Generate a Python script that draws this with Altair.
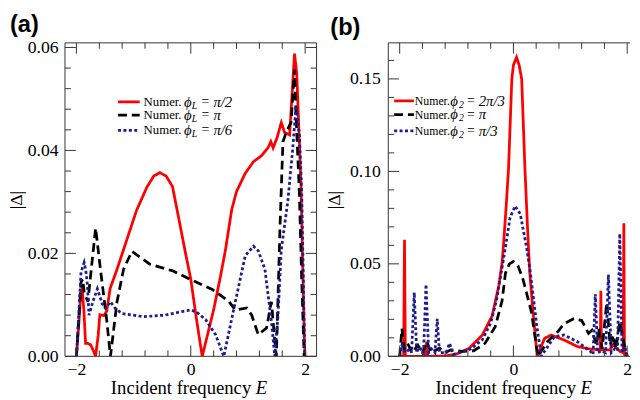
import altair as alt
import pandas as pd

# ---------------- data: panel (a) ----------------
a_red_E = [-2.00, -1.96, -1.92, -1.90, -1.87, -1.84, -1.80, -1.75, -1.70, -1.665, -1.62, -1.59, -1.52, -1.47,
           -1.41, -1.29, -1.12, -0.95, -0.77, -0.65, -0.54, -0.43, -0.32, -0.20, -0.10, 0.00, 0.10, 0.20,
           0.30, 0.405, 0.51, 0.607, 0.716, 0.80, 0.95, 1.095, 1.24, 1.35, 1.40, 1.44, 1.51, 1.583, 1.64,
           1.728, 1.767, 1.814, 1.853, 1.888, 1.928, 1.957, 1.99, 2.00]
a_red_D = [0.0, 0.006, 0.0128, 0.0131, 0.009, 0.0025, 0.0025, 0.0022, 0.001, 0.0, 0.004, 0.0081, 0.0079, 0.0088,
           0.0132, 0.0169, 0.0226, 0.0283, 0.0328, 0.0350, 0.0357, 0.0350, 0.0330, 0.0262, 0.0205, 0.0150, 0.0072, 0.0,
           0.0045, 0.0093, 0.0150, 0.0207, 0.0285, 0.0320, 0.0355, 0.0378, 0.0390, 0.0405, 0.0417, 0.0405, 0.0425, 0.0454, 0.0435,
           0.0430, 0.0500, 0.0588, 0.0550, 0.0450, 0.0330, 0.0180, 0.002, 0.0]

a_black_E = [-2.0, -1.95, -1.92, -1.89, -1.865, -1.80, -1.73, -1.664, -1.58, -1.474, -1.405, -1.29, -1.176, -1.03,
             -0.716, -0.314, 0.0, 0.376, 0.664, 0.78, 0.98, 1.066, 1.18, 1.324, 1.41, 1.469, 1.497, 1.56, 1.612,
             1.669, 1.755, 1.814, 1.841, 1.90, 1.94, 1.983]
a_black_D = [0.0, 0.009, 0.0144, 0.015, 0.0125, 0.0106, 0.018, 0.0249, 0.0169, 0.0074, 0.0, 0.0106, 0.0169, 0.0204,
             0.0179, 0.0166, 0.0149, 0.013, 0.0107, 0.009, 0.0094, 0.008, 0.0042, 0.0055, 0.0106, 0.003, 0.0, 0.025, 0.0417,
             0.0435, 0.0455, 0.0557, 0.0468, 0.0315, 0.015, 0.0]

a_blue_E = [-2.0, -1.95, -1.92, -1.865, -1.836, -1.807, -1.78, -1.716, -1.634, -1.548, -1.491, -1.405, -1.319, -1.203,
            -0.831, -0.457, -0.15, 0.0, 0.10, 0.262, 0.434, 0.578, 0.779, 0.952, 1.095, 1.18, 1.297, 1.41, 1.469,
            1.526, 1.583, 1.698, 1.784, 1.841, 1.90, 1.94, 1.974, 1.99]
a_blue_D = [0.0, 0.010, 0.0163, 0.0182, 0.0167, 0.0138, 0.008, 0.0105, 0.0131, 0.0102, 0.0093, 0.0106, 0.0093, 0.0083,
            0.0077, 0.0080, 0.0087, 0.009, 0.0086, 0.0071, 0.0042, 0.0, 0.0106, 0.0195, 0.0214, 0.0205, 0.0169, 0.0068, 0.0,
            0.008, 0.0207, 0.0302, 0.0404, 0.0487, 0.043, 0.0322, 0.012, 0.0]

# ---------------- data: panel (b) ----------------
b_red_E = [-2.0, -1.93, -1.915, -1.90, -1.535, -1.525, -1.515, -1.2, -1.0, -0.777, -0.546, -0.373, -0.259, -0.2,
           -0.173, -0.13, -0.086, -0.028, 0.0, 0.055, 0.10, 0.145, 0.202, 0.25, 0.288, 0.345, 0.404, 0.432, 0.47,
           0.547, 0.663, 0.893, 1.123, 1.354, 1.527, 1.537, 1.547, 1.70, 1.756, 1.872, 1.93, 1.941, 1.952, 2.0]
b_red_D = [0.0, 0.0, 0.063, 0.0, 0.0, 0.008, 0.0, 0.0002, 0.0012, 0.0044, 0.0115, 0.022, 0.038, 0.0504,
           0.061, 0.080, 0.1016, 0.150, 0.1575, 0.1617, 0.1575, 0.150, 0.1016, 0.068, 0.045, 0.0239, 0.0044, 0.0, 0.004,
           0.0097, 0.0115, 0.0088, 0.0053, 0.0039, 0.0035, 0.0354, 0.0035, 0.0035, 0.0064, 0.0027, 0.002, 0.072, 0.001, 0.0]

b_black_E = [-2.0, -1.96, -1.92, -1.86, -1.78, -1.68, -1.60, -1.52, -1.45, -1.30, -1.2, -1.1, -0.9, -0.7, -0.5,
             -0.32, -0.2, -0.14, -0.07, 0.0, 0.08, 0.17, 0.317, 0.43, 0.6, 0.78, 0.89, 1.06, 1.2, 1.32, 1.38,
             1.46, 1.50, 1.56, 1.64, 1.70, 1.756, 1.80, 1.87, 1.96, 2.0]
b_black_D = [0.0, 0.015, 0.004, 0.007, 0.002, 0.006, 0.002, 0.008, 0.002, 0.0044, 0.002, 0.0035, 0.0027, 0.003, 0.007,
             0.016, 0.030, 0.045, 0.050, 0.0513, 0.049, 0.0415, 0.0239, 0.0, 0.008, 0.0133, 0.0177, 0.0203, 0.0194, 0.0124, 0.0141,
             0.006, 0.015, 0.004, 0.029, 0.006, 0.0115, 0.004, 0.0186, 0.0044, 0.0]

b_blue_E = [-2.0, -1.96, -1.90, -1.82, -1.79, -1.744, -1.70, -1.65, -1.58, -1.537, -1.49, -1.44, -1.38, -1.34, -1.30,
            -1.18, -1.123, -1.06, -0.9, -0.75, -0.546, -0.4, -0.3, -0.2, -0.14, -0.06, 0.03, 0.12, 0.23, 0.29, 0.35,
            0.404, 0.49, 0.547, 0.72, 0.893, 1.12, 1.354, 1.40, 1.44, 1.48, 1.55, 1.62, 1.67, 1.72, 1.78, 1.83, 1.87,
            1.91, 1.96, 2.0]
b_blue_D = [0.0, 0.006, 0.002, 0.004, 0.002, 0.0345, 0.002, 0.005, 0.002, 0.0389, 0.002, 0.004, 0.002, 0.0203, 0.002,
            0.002, 0.0071, 0.001, 0.0025, 0.004, 0.009, 0.018, 0.030, 0.048, 0.059, 0.075, 0.0813, 0.077, 0.059, 0.047, 0.032,
            0.018, 0.0, 0.0027, 0.0106, 0.0115, 0.008, 0.0027, 0.001, 0.0336, 0.002, 0.003, 0.002, 0.0442, 0.002, 0.004, 0.003, 0.0663,
            0.002, 0.005, 0.0]

# ---------------- ticks & labels ----------------
x_major = [-2, 0, 2]
x_minor = [-1.6, -1.2, -0.8, -0.4, 0.4, 0.8, 1.2, 1.6]
a_y_major = [0.0, 0.02, 0.04, 0.06]
a_y_minor = [round(0.004 * i, 3) for i in range(1, 15) if i % 5 != 0]
b_y_major = [0.0, 0.05, 0.10, 0.15]
b_y_minor = [round(0.01 * i, 2) for i in range(1, 17) if i % 5 != 0]

a_legend_vals = ["π/2", "π", "π/6"]
b_legend_vals = ["2π/3", "π", "π/3"]

RED, BLACK, BLUE = "#ff0000", "#000000", "#1c1c8f"
STYLES = [(RED, [1, 0]), (BLACK, [9, 5]), (BLUE, [3, 2.5])]
FRAME = "#333333"
SERIF = "'Liberation Serif', 'Times New Roman', Times, serif"
SANS = "'Liberation Sans', Arial, Helvetica, sans-serif"
H = 319
one = pd.DataFrame({"k": [0]})
MINUS = "datum.value < 0 ? '\u2212' + format(-datum.value, 'd') : format(datum.value, 'd')"


def panel(series, xdom, ydom, W, ymaj, ymin, yfmt, lab_pad, ytitle_x, title, title_dx,
          leg_vals, leg_line, leg_text_x, leg_rows, leg_off, numer_fs, sub, xt_right, e_left, right_side):
    xs = alt.Scale(domain=xdom, nice=False, zero=False)
    ys = alt.Scale(domain=ydom, nice=False, zero=False)
    xax = alt.Axis(values=x_major, labelPadding=5, labelExpr=MINUS, title=None,
                   labelFont=SERIF, labelFontSize=18, labelColor="black")
    yax = alt.Axis(values=ymaj, format=yfmt, labelPadding=lab_pad, title="|Δ|",
                   labelFont=SERIF, labelFontSize=18, labelColor="black",
                   titleFont=SERIF, titleFontSize=18, titleColor="black", titleFontWeight="normal",
                   titleX=ytitle_x, titleY=H / 2, titleAngle=270,
                   titleBaseline="alphabetic", titleAlign="center")

    def X(f):
        return alt.X(f, scale=xs, axis=xax, title=None)

    def Y(f):
        return alt.Y(f, scale=ys, axis=yax, title="|Δ|")

    layers = []
    for i, (E, D) in enumerate(series):
        df = pd.DataFrame({"E": E, "D": D, "i": range(len(E))})
        color, dash = STYLES[i]
        layers.append(alt.Chart(df).mark_line(color=color, strokeWidth=2.8, strokeDash=dash,
                                              strokeCap="butt", clip=True)
                      .encode(x=X("E:Q"), y=Y("D:Q"), order="i:Q"))

    # frame
    fr = dict(color=FRAME, strokeWidth=1)
    layers.append(alt.Chart(one).mark_rule(**fr).encode(x=alt.value(0), x2=alt.value(W), y=alt.value(0)))
    layers.append(alt.Chart(one).mark_rule(**fr).encode(x=alt.value(0), x2=alt.value(W), y=alt.value(H)))
    layers.append(alt.Chart(one).mark_rule(**fr).encode(x=alt.value(0), y=alt.value(0), y2=alt.value(H)))
    if right_side:
        layers.append(alt.Chart(one).mark_rule(**fr).encode(x=alt.value(W), y=alt.value(0), y2=alt.value(H)))

    # ticks (inward)
    for vals, L in ((x_major, 11), (x_minor, 6)):
        d = pd.DataFrame({"E": vals})
        layers.append(alt.Chart(d).mark_rule(**fr).encode(x=X("E:Q"), y=alt.value(H), y2=alt.value(H - L)))
        layers.append(alt.Chart(d).mark_rule(**fr).encode(x=X("E:Q"), y=alt.value(0), y2=alt.value(L)))
    for vals, L in ((ymaj, 11), (ymin, 6)):
        d = pd.DataFrame({"D": vals})
        layers.append(alt.Chart(d).mark_rule(**fr).encode(y=Y("D:Q"), x=alt.value(0), x2=alt.value(L)))
        if right_side:
            layers.append(alt.Chart(d).mark_rule(**fr).encode(y=Y("D:Q"), x=alt.value(W - L), x2=alt.value(W)))

    # legend
    for r, ((color, dash), val, ry) in enumerate(zip(STYLES, leg_vals, leg_rows)):
        layers.append(alt.Chart(one).mark_rule(color=color, strokeWidth=2.8, strokeDash=dash, strokeCap="butt")
                      .encode(x=alt.value(leg_line[0]), x2=alt.value(leg_line[1]), y=alt.value(ry)))
        pieces = [("Numer.", 0, numer_fs, "normal", 0), ("ϕ", leg_off[0], 15, "italic", 0),
                  (sub, leg_off[1], 10, "italic", 4), ("=", leg_off[2], 14, "normal", 0),
                  (val, leg_off[3], 15, "italic", 0)]
        for txt, dx, fs, st, dy in pieces:
            layers.append(alt.Chart(one).mark_text(text=txt, align="left", baseline="middle", font=SERIF,
                                                   fontSize=fs, fontStyle=st, color="black")
                          .encode(x=alt.value(leg_text_x + dx), y=alt.value(ry + dy)))

    # x axis title with italic E
    layers.append(alt.Chart(one).mark_text(text="Incident frequency", align="right", baseline="alphabetic",
                                           font=SERIF, fontSize=19, color="black")
                  .encode(x=alt.value(xt_right), y=alt.value(H + 38)))
    layers.append(alt.Chart(one).mark_text(text="E", align="left", baseline="alphabetic",
                                           font=SERIF, fontSize=19, fontStyle="italic", color="black")
                  .encode(x=alt.value(e_left), y=alt.value(H + 38)))

    return alt.layer(*layers).properties(
        width=W, height=H,
        title=alt.TitleParams(text=title, anchor="start", frame="group", fontSize=24, fontWeight="bold",
                              font=SANS, dx=title_dx, offset=2, color="black"))


pa = panel([(a_red_E, a_red_D), (a_black_E, a_black_D), (a_blue_E, a_blue_D)],
           [-2.2, 2.2], [0, 0.0609], 256, a_y_major, a_y_minor, ".2f", 7, -44, "(a)", -56,
           a_legend_vals, (54, 76), 80, (60, 73.5, 89), (41, 49, 59, 71), 13, "L", 189.5, 194, True)
pb = panel([(b_red_E, b_red_D), (b_black_E, b_black_D), (b_blue_E, b_blue_D)],
           [-2.2, 2.05], [0, 0.1695], 246, b_y_major, b_y_minor, ".2f", 8, -50, "(b)", -59,
           b_legend_vals, (6, 26), 27, (59, 73, 89.5), (36, 45, 53, 65), 12, "2", 191, 195.7, False)

chart = alt.hconcat(pa, pb, spacing=8).properties(
    padding={"left": 0, "right": 0, "top": 1, "bottom": 0}, background="white"
).configure_view(stroke=None).configure_axis(
    grid=False, domain=False, ticks=False, tickSize=0, labelFont=SERIF, labelFontSize=18, labelColor="black",
    titleFont=SERIF, titleFontSize=18, titleColor="black", titleFontWeight="normal"
)

chart.save("out.html", embed_options={"renderer": "svg", "actions": False})
